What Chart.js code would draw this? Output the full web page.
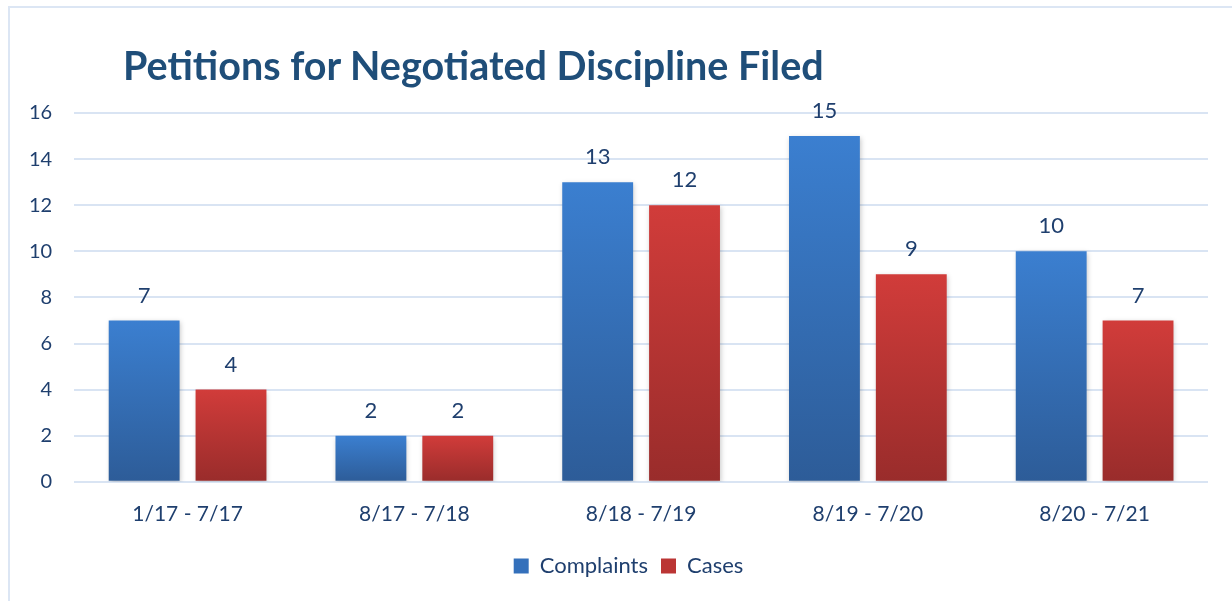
<!DOCTYPE html>
<html>
<head>
<meta charset="utf-8">
<script src="https://cdn.jsdelivr.net/npm/chart.js@4/dist/chart.umd.min.js"></script>
<style>
  html, body { margin: 0; padding: 0; background: #fff; overflow: hidden; }
  #frame {
    position: absolute; left: 8px; top: 6px; width: 1260px; height: 640px;
    border: 2px solid #dce6f4; box-sizing: border-box;
  }
  #title {
    position: absolute; left: 123px; top: 41px; margin: 0;
    font: bold 39.5px Lato, sans-serif; color: #1f4e79; white-space: nowrap;
  }
  #wrap { position: absolute; left: 0; top: 0; width: 1232px; height: 601px; }
</style>
</head>
<body>
<div id="frame"></div>
<div id="wrap"><canvas id="chart"></canvas></div>
<h1 id="title">Petitions for Negotiated Discipline Filed</h1>
<script>
const periods = ["1/17 - 7/17", "8/17 - 7/18", "8/18 - 7/19", "8/19 - 7/20", "8/20 - 7/21"];
const complaints = [7, 2, 13, 15, 10];
const cases = [4, 2, 12, 9, 7];
const yTicks = [0, 2, 4, 6, 8, 10, 12, 14, 16];

const textColor = "#1f3f6e";

function barGradient(top, bottom) {
  return (c) => {
    const chart = c.chart;
    const y = chart.scales.y;
    if (!chart.chartArea || !y || c.raw == null) return top;
    const y0 = y.getPixelForValue(c.raw);
    const y1 = y.getPixelForValue(0);
    const g = chart.ctx.createLinearGradient(0, y0, 0, y1);
    g.addColorStop(0, top);
    g.addColorStop(1, bottom);
    return g;
  };
}

// value labels above the bars
const valueLabels = {
  id: "valueLabels",
  afterDatasetsDraw(chart) {
    const ctx = chart.ctx;
    ctx.save();
    ctx.font = "22px Lato, sans-serif";
    ctx.fillStyle = textColor;
    ctx.textAlign = "center";
    ctx.textBaseline = "middle";
    chart.data.datasets.forEach((ds, i) => {
      chart.getDatasetMeta(i).data.forEach((bar, j) => {
        ctx.fillText(String(ds.data[j]), bar.x, bar.y - 25);
      });
    });
    ctx.restore();
  }
};

// soft shadow behind bars
const barShadow = {
  id: "barShadow",
  beforeDatasetsDraw(chart) {
    const ctx = chart.ctx;
    ctx.save();
    ctx.shadowColor = "rgba(0,0,0,0.22)";
    ctx.shadowBlur = 5;
    ctx.shadowOffsetX = 1;
    ctx.shadowOffsetY = 2;
  },
  afterDatasetsDraw(chart) {
    chart.ctx.restore();
  }
};

// legend sits centred on the whole frame, not the padded box
const legendShift = {
  id: "legendShift",
  afterLayout(chart) {
    const lg = chart.legend;
    if (!lg) return;
    lg.left += 21;
    lg.right += 21;
    lg.top += 3;
    lg.bottom += 3;
  }
};

new Chart(document.getElementById("chart"), {
  type: "bar",
  data: {
    labels: periods,
    datasets: [
      {
        label: "Complaints",
        data: complaints,
        backgroundColor: barGradient("#3b7fd0", "#2d5c98")
      },
      {
        label: "Cases",
        data: cases,
        backgroundColor: barGradient("#d13c3a", "#992c2b")
      }
    ]
  },
  options: {
    responsive: true,
    maintainAspectRatio: false,
    animation: false,
    categoryPercentage: 0.766,
    barPercentage: 0.816,
    layout: { padding: { top: 113, left: 7, right: 24, bottom: 17 } },
    plugins: {
      title: { display: false },
      tooltip: { enabled: false },
      legend: {
        position: "bottom",
        labels: {
          font: { family: "Lato, sans-serif", size: 22 },
          color: textColor,
          boxWidth: 15,
          boxHeight: 15,
          padding: 13,
          generateLabels(chart) {
            const fills = ["#3470bb", "#bb3534"];
            return chart.data.datasets.map((ds, i) => ({
              text: ds.label,
              fillStyle: fills[i],
              strokeStyle: fills[i],
              lineWidth: 0,
              fontColor: textColor,
              datasetIndex: i
            }));
          }
        }
      }
    },
    scales: {
      x: {
        grid: { display: false },
        border: { display: false },
        ticks: {
          color: textColor,
          font: { family: "Lato, sans-serif", size: 21 },
          padding: 12
        }
      },
      y: {
        min: 0,
        max: 16,
        afterBuildTicks(axis) {
          axis.ticks = yTicks.map(v => ({ value: v }));
        },
        grid: { color: "#d9e4f3", lineWidth: 2, drawTicks: false },
        border: { display: false },
        ticks: {
          color: textColor,
          font: { family: "Lato, sans-serif", size: 20 },
          padding: 22
        }
      }
    }
  },
  plugins: [barShadow, valueLabels, legendShift]
});
</script>
</body>
</html>
